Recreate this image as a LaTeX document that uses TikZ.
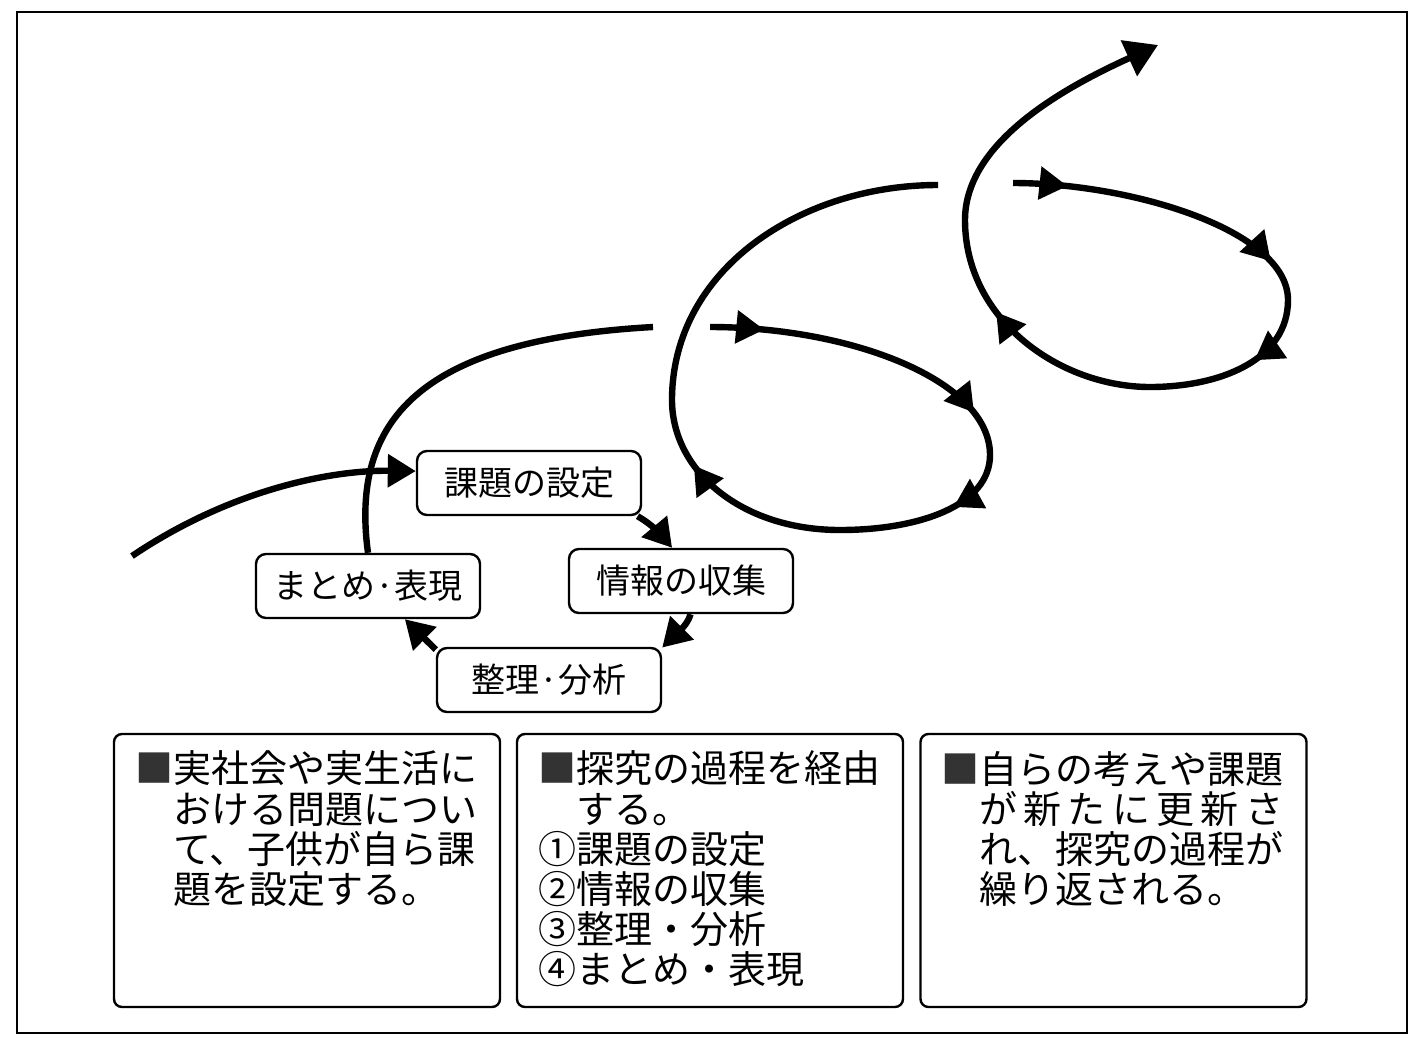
\documentclass[tikz,border=0pt]{standalone}
\usepackage{fontspec}
\setmainfont{Noto Sans CJK JP}
\usetikzlibrary{arrows.meta,decorations.markings}

\newlength{\du}
\setlength{\du}{0.5pt}

\tikzset{
  tipshape/.tip={Triangle[length=14pt,width=16pt]},
  bigtip/.tip={Triangle[length=16pt,width=19pt]},
  stepbox/.style={draw=dialinecolor, line width=1.2pt, rounded corners=5pt, fill=white,
    minimum width=224\du, minimum height=64\du, inner sep=0pt, font=\fontsize{17}{20}\selectfont},
  notebox/.style={draw=dialinecolor, line width=1.2pt, rounded corners=4pt,
    minimum width=386\du, minimum height=273\du, inner sep=0pt},
  notetext/.style={anchor=north west, inner sep=0pt, align=left, font=\fontsize{19}{20.1}\selectfont},
  loopline/.style={draw=dialinecolor, line width=3.2pt},
  midtip/.style={postaction={decorate,decoration={markings,mark=at position #1 with {\arrow{tipshape}}}}},
}
\newcommand{\notemark}{{\color{dialinecolor!80}■}}

\begin{document}
\begin{tikzpicture}
\pgftransformxscale{1.000000}
\pgftransformyscale{-1.000000}
\definecolor{dialinecolor}{rgb}{0.000000, 0.000000, 0.000000}
\pgfsetstrokecolor{dialinecolor}
\pgfsetlinewidth{2.000000\du}
\useasboundingbox (0\du,0\du) rectangle (1424\du,1051\du);
\draw (17\du,12\du) rectangle (1407\du,1033\du);
% steps of the first cycle
\node[stepbox] (kadai) at (529\du,483\du){課題の設定};
\node[stepbox] (joho) at (681\du,581\du){情報の収集};
\node[stepbox] (seiri) at (549\du,680\du){整理·分析};
\node[stepbox] (matome) at (368\du,586\du){まとめ·表現};
\coordinate (entry) at (132\du,556\du);
\coordinate (gap1) at (653\du,327\du);
\draw[loopline,-{tipshape}] (entry) .. controls (230\du,490\du) and (330\du,470\du) .. (kadai.174);
\draw[loopline,-{tipshape}] (kadai.-17) .. controls +(14\du,8\du) and +(-10\du,-12\du) .. (joho.105);
\draw[loopline,-{tipshape}] (joho.-74) .. controls +(-3\du,12\du) and +(10\du,-10\du) .. (seiri.16);
\draw[loopline,-{tipshape}] (seiri.165) -- (matome.-42);
\draw[loopline] (matome.north) .. controls (350\du,420\du) and (420\du,340\du) .. (gap1);
% second cycle
\draw[loopline,midtip=0.048,midtip=0.252,midtip=0.352,midtip=0.602]
  (710\du,327\du) .. controls (850\du,327\du) and (990\du,380\du) .. (990\du,455\du)
  .. controls (990\du,505\du) and (920\du,530\du) .. (840\du,530\du)
  .. controls (740\du,530\du) and (672\du,470\du) .. (672\du,400\du)
  .. controls (672\du,270\du) and (800\du,185\du) .. (938\du,185\du);
% third cycle
\draw[loopline,midtip=0.052,midtip=0.262,midtip=0.372,midtip=0.645,-{bigtip}]
  (1013\du,183\du) .. controls (1130\du,183\du) and (1288\du,230\du) .. (1288\du,300\du)
  .. controls (1288\du,360\du) and (1220\du,387\du) .. (1150\du,387\du)
  .. controls (1060\du,387\du) and (965\du,320\du) .. (965\du,220\du)
  .. controls (965\du,140\du) and (1070\du,85\du) .. (1158\du,45\du);
% notes
\node[notebox] (note1) at (307\du,870.5\du){};
\node[notebox] (note2) at (710\du,870.5\du){};
\node[notebox] (note3) at (1113.5\du,870.5\du){};
% setfont left to latex
\node[notetext] (text1) at (134\du,750\du){\notemark 実社会や実生活に\\\hspace*{1em}おける問題につい\\\hspace*{1em}て、子供が自ら課\\\hspace*{1em}題を設定する。};
\node[notetext] (text2) at (537\du,750\du){\notemark 探究の過程を経由\\\hspace*{1em}する。\\①課題の設定\\②情報の収集\\③整理・分析\\④まとめ・表現};
\node[notetext] (text3) at (940\du,750\du){\notemark 自らの考えや課題\\\hspace*{1em}\makebox[8em][s]{が\hfill 新\hfill た\hfill に\hfill 更\hfill 新\hfill さ}\\\hspace*{1em}れ、探究の過程が\\\hspace*{1em}繰り返される。};
\end{tikzpicture}
\end{document}
